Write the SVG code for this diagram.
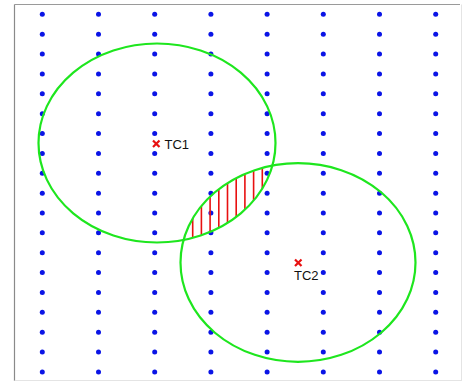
<svg xmlns="http://www.w3.org/2000/svg" xmlns:xlink="http://www.w3.org/1999/xlink" width="463" height="382" viewBox="0 0 463 382">
  <style>
    .dot { fill: #0a14e6; }
    .zone { fill: none; stroke: #1ee61e; stroke-width: 2.2; }
    .mark { stroke: #e81010; stroke-width: 2.2; stroke-linecap: butt; }
    .hatch { stroke: #e81010; stroke-width: 1.6; }
    .label { font-family: "Liberation Sans", Arial, sans-serif; font-size: 13px; fill: #111; }
  </style>
  <defs>
    <!-- one column of grid points -->
    <g id="col">
      <circle class="dot" cx="0" cy="14.3" r="2.5"/>
      <circle class="dot" cx="0" cy="34.17" r="2.5"/>
      <circle class="dot" cx="0" cy="54.04" r="2.5"/>
      <circle class="dot" cx="0" cy="73.91" r="2.5"/>
      <circle class="dot" cx="0" cy="93.78" r="2.5"/>
      <circle class="dot" cx="0" cy="113.65" r="2.5"/>
      <circle class="dot" cx="0" cy="133.52" r="2.5"/>
      <circle class="dot" cx="0" cy="153.39" r="2.5"/>
      <circle class="dot" cx="0" cy="173.26" r="2.5"/>
      <circle class="dot" cx="0" cy="193.13" r="2.5"/>
      <circle class="dot" cx="0" cy="213.0" r="2.5"/>
      <circle class="dot" cx="0" cy="232.87" r="2.5"/>
      <circle class="dot" cx="0" cy="252.74" r="2.5"/>
      <circle class="dot" cx="0" cy="272.61" r="2.5"/>
      <circle class="dot" cx="0" cy="292.48" r="2.5"/>
      <circle class="dot" cx="0" cy="312.35" r="2.5"/>
      <circle class="dot" cx="0" cy="332.22" r="2.5"/>
      <circle class="dot" cx="0" cy="352.09" r="2.5"/>
      <circle class="dot" cx="0" cy="371.96" r="2.5"/>
    </g>
    <clipPath id="clipA">
      <ellipse cx="157" cy="143" rx="118.5" ry="99.5"/>
    </clipPath>
    <clipPath id="clipB">
      <ellipse cx="298" cy="262.5" rx="117.5" ry="99.3"/>
    </clipPath>
  </defs>

  <rect x="0" y="0" width="463" height="382" fill="#ffffff"/>

  <!-- plot frame -->
  <g id="frame" fill="none">
    <line x1="14.5" y1="4.5" x2="460" y2="4.5" stroke="#9a9a9a" stroke-width="1.2"/>
    <line x1="14.5" y1="4.5" x2="14.5" y2="381" stroke="#8a8a8a" stroke-width="1.2"/>
    <line x1="461.5" y1="4.5" x2="461.5" y2="381" stroke="#e4e4e4" stroke-width="1"/>
    <line x1="14.5" y1="380.5" x2="461.5" y2="380.5" stroke="#e4e4e4" stroke-width="1"/>
  </g>

  <!-- grid of sample points -->
  <g id="grid">
    <use xlink:href="#col" x="42.3"/>
    <use xlink:href="#col" x="98.5"/>
    <use xlink:href="#col" x="154.7"/>
    <use xlink:href="#col" x="210.9"/>
    <use xlink:href="#col" x="267.1"/>
    <use xlink:href="#col" x="323.3"/>
    <use xlink:href="#col" x="379.5"/>
    <use xlink:href="#col" x="435.7"/>
  </g>

  <!-- overlap region hatching -->
  <g id="overlap" clip-path="url(#clipA)">
    <g clip-path="url(#clipB)">
      <line class="hatch" x1="192.7" y1="150" x2="192.7" y2="260"/>
      <line class="hatch" x1="201.4" y1="150" x2="201.4" y2="260"/>
      <line class="hatch" x1="210.1" y1="150" x2="210.1" y2="260"/>
      <line class="hatch" x1="218.8" y1="150" x2="218.8" y2="260"/>
      <line class="hatch" x1="227.5" y1="150" x2="227.5" y2="260"/>
      <line class="hatch" x1="236.2" y1="150" x2="236.2" y2="260"/>
      <line class="hatch" x1="244.9" y1="150" x2="244.9" y2="260"/>
      <line class="hatch" x1="253.6" y1="150" x2="253.6" y2="260"/>
      <line class="hatch" x1="262.3" y1="150" x2="262.3" y2="260"/>
    </g>
  </g>

  <g id="TC1">
    <ellipse class="zone" cx="157" cy="143" rx="118.5" ry="99.5"/>
    <path class="mark" d="M153 140.5 L159.5 147 M159.5 140.5 L153 147"/>
    <text class="label" x="164.5" y="148.5">TC1</text>
  </g>

  <g id="TC2">
    <ellipse class="zone" cx="298" cy="262.5" rx="117.5" ry="99.3"/>
    <path class="mark" d="M295 259.5 L301.5 266 M301.5 259.5 L295 266"/>
    <text class="label" x="294" y="279.5">TC2</text>
  </g>
</svg>
